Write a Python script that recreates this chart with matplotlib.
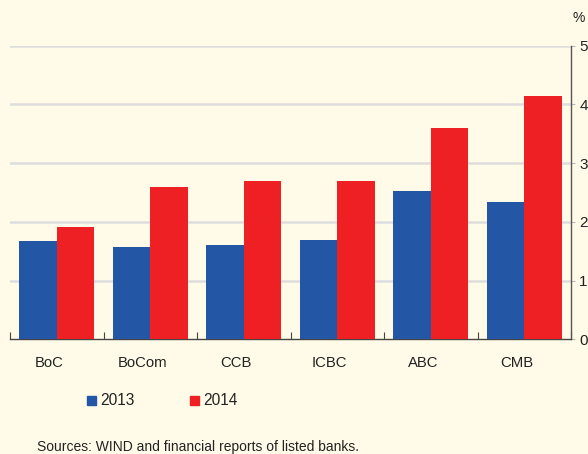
import matplotlib
matplotlib.use("Agg")
import matplotlib.pyplot as plt
import numpy as np
from matplotlib.patches import Rectangle

categories = ["BoC", "BoCom", "CCB", "ICBC", "ABC", "CMB"]
v2013 = [1.67, 1.57, 1.60, 1.69, 2.52, 2.34]
v2014 = [1.91, 2.60, 2.70, 2.70, 3.60, 4.15]
yticks = [0, 1, 2, 3, 4, 5]

bg = "#FFFBE8"
blue = "#2356A5"
red = "#EE2024"

plt.rcParams['font.family'] = ['Liberation Sans', 'DejaVu Sans']
fig = plt.figure(figsize=(5.88, 4.54), dpi=100, facecolor=bg)
W, H = 588, 454
ax = fig.add_axes([10 / W, 1 - 339.2 / H, 561 / W, (339.2 - 45.7) / H])
ax.set_facecolor(bg)

x = np.arange(len(categories))
ax.bar(x - 0.2, v2013, width=0.4, color=blue, zorder=3, label="2013")
ax.bar(x + 0.2, v2014, width=0.4, color=red, zorder=3, label="2014")

ax.set_xlim(-0.5, len(categories) - 0.5)
ax.set_ylim(0, 5)
ax.yaxis.tick_right()
ax.set_yticks(yticks)
ax.set_yticklabels([str(t) for t in yticks], fontsize=11, color="#222222")
ax.tick_params(axis="y", length=3, width=0.8, color="#BBBBBB", pad=3, direction="out")
for t in yticks[1:]:
    ax.axhline(t, color="#DDDDDD", lw=1.8, zorder=1)

ax.set_xticks(np.arange(len(categories) + 1) - 0.5)
ax.set_xticklabels([])
ax.tick_params(axis="x", length=5, width=0.8, color="#444444", direction="in")
# category labels sit slightly left of the group centres in the original
for i, c in enumerate(categories):
    ax.annotate(c, xy=(i, 0), xycoords=("data", "axes fraction"),
                xytext=(-7.5, -23.8), textcoords="offset pixels",
                ha="center", va="center", fontsize=10.7, color="#222222")

for s in ["top", "left"]:
    ax.spines[s].set_visible(False)
ax.spines["bottom"].set_color("#444444")
ax.spines["bottom"].set_linewidth(1.0)
ax.spines["right"].set_color("#555555")
ax.spines["right"].set_linewidth(1.0)

fig.text(579 / W, 1 - 18 / H, "%", ha="center", va="center", fontsize=10, color="#222222")

# legend
for xx, col, lab in [(87, blue, "2013"), (190, red, "2014")]:
    fig.patches.append(Rectangle((xx / W, 1 - 405 / H), 9 / W, 9 / H,
                                 transform=fig.transFigure, color=col))
    fig.text((xx + 13) / W, 1 - 400.5 / H, lab, ha="left", va="center", fontsize=11.2,
             color="#222222")

fig.text(37 / W, 1 - 447 / H, "Sources: WIND and financial reports of listed banks.",
         ha="left", va="center", fontsize=10, color="#222222")

fig.savefig("out.png", dpi=100, facecolor=bg)
